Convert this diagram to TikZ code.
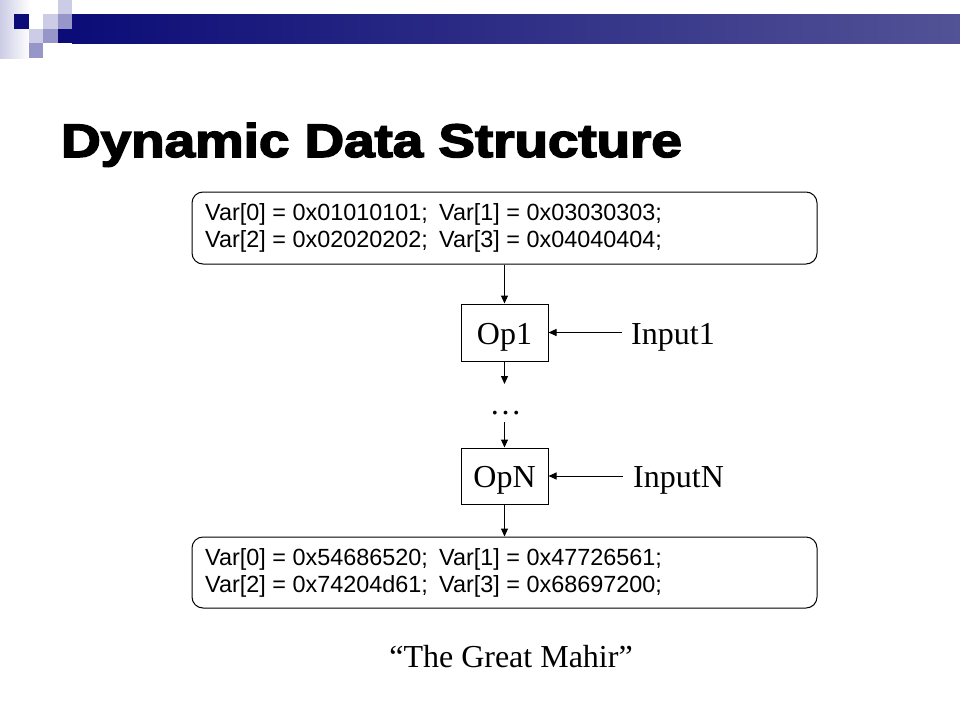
\documentclass[tikz,border=0pt]{standalone}
\usepackage{fontspec}
\usepackage{graphicx}
\setmainfont{Liberation Serif}
\newfontfamily\arialfont{Liberation Sans}
\newfontfamily\titlefont[FakeBold=3.2]{Liberation Sans Bold}
\usetikzlibrary{arrows.meta}
\definecolor{navydark}{RGB}{12,12,120}
\definecolor{navyright}{RGB}{82,82,150}
\definecolor{lav}{RGB}{204,204,230}
\definecolor{lavmid}{RGB}{150,150,200}
\tikzset{
  conn/.style={line width=1pt, -{Triangle[length=8pt,width=7pt]}},
  opbox/.style={draw, line width=1pt, minimum width=87pt, minimum height=57pt, inner sep=0pt, text height=23pt, text depth=0pt, font=\fontsize{32}{32}\selectfont},
  varbox/.style={draw, line width=1pt, rounded corners=11pt, minimum width=625pt, minimum height=72pt, inner sep=0pt},
  vartext/.style={anchor=base west, inner sep=0pt, font=\arialfont\fontsize{23.4}{27}\selectfont},
  serif32/.style={inner sep=0pt, font=\fontsize{32}{32}\selectfont}
}
\begin{document}
\begin{tikzpicture}[x=1pt,y=-1pt]
\useasboundingbox (0,0) rectangle (960,720);
\fill[white] (0,0) rectangle (960,720);
% decoration
\shade[left color=lav, right color=white] (0,0) rectangle (30,58);
\shade[left color=navydark, right color=navyright] (72,14.4) rectangle (960,43.2);
\fill[navydark] (57.6,28.8) rectangle (72,43.2);
\fill[navydark] (14.4,14.4) rectangle (28.8,28.8);
\fill[lav] (57.6,0) rectangle (72,14.4);
\fill[lav] (43.2,14.4) rectangle (57.6,28.8);
\fill[lavmid] (57.6,14.4) rectangle (72,28.8);
\fill[lav] (28.8,28.8) rectangle (43.2,43.2);
\fill[lavmid] (43.2,28.8) rectangle (57.6,43.2);
\fill[lavmid] (28.8,43.2) rectangle (43.2,57.6);
% title
\node[anchor=base west, inner sep=0pt] (title) at (61,157)
  {\scalebox{1.165}[1]{\titlefont\fontsize{47}{47}\selectfont Dynamic Data Structure}};
% boxes
\node[varbox] (topbox) at (504.5,228) {};
\node[vartext] (t0) at (205,220.5) {Var[0] = 0x01010101;};
\node[vartext] (t1) at (439,220.5) {Var[1] = 0x03030303;};
\node[vartext] (t2) at (205,247.5) {Var[2] = 0x02020202;};
\node[vartext] (t3) at (439,247.5) {Var[3] = 0x04040404;};
\node[opbox] (op1) at (504.5,332.5) {Op1};
\node[opbox, minimum height=56pt] (opn) at (504.5,476) {OpN};
\node[varbox, minimum height=71pt] (botbox) at (504.5,572.5) {};
\node[vartext] (b0) at (205,565.5) {Var[0] = 0x54686520;};
\node[vartext] (b1) at (439,565.5) {Var[1] = 0x47726561;};
\node[vartext] (b2) at (205,592.5) {Var[2] = 0x74204d61;};
\node[vartext] (b3) at (439,592.5) {Var[3] = 0x68697200;};
\node[serif32, anchor=base west] (in1) at (631,344) {Input1};
\node[serif32, anchor=base west] (inn) at (633,487.5) {InputN};
\node[serif32, anchor=base] (dots) at (505.5,414) {\ldots};
\node[serif32, anchor=base] (quote) at (511,667) {“The Great Mahir”};
\coordinate (in1s) at (622,332.5);
\coordinate (inns) at (623,476);
\coordinate (d1) at (504.5,384);
\coordinate (d2) at (504.5,422);
% connectors
\draw[conn] (topbox.south) -- (op1.north);
\draw[conn] (in1s) -- (op1.east);
\draw[conn] (op1.south) -- (d1);
\draw[conn] (d2) -- (opn.north);
\draw[conn] (inns) -- (opn.east);
\draw[conn] (opn.south) -- (botbox.north);
\end{tikzpicture}
\end{document}
